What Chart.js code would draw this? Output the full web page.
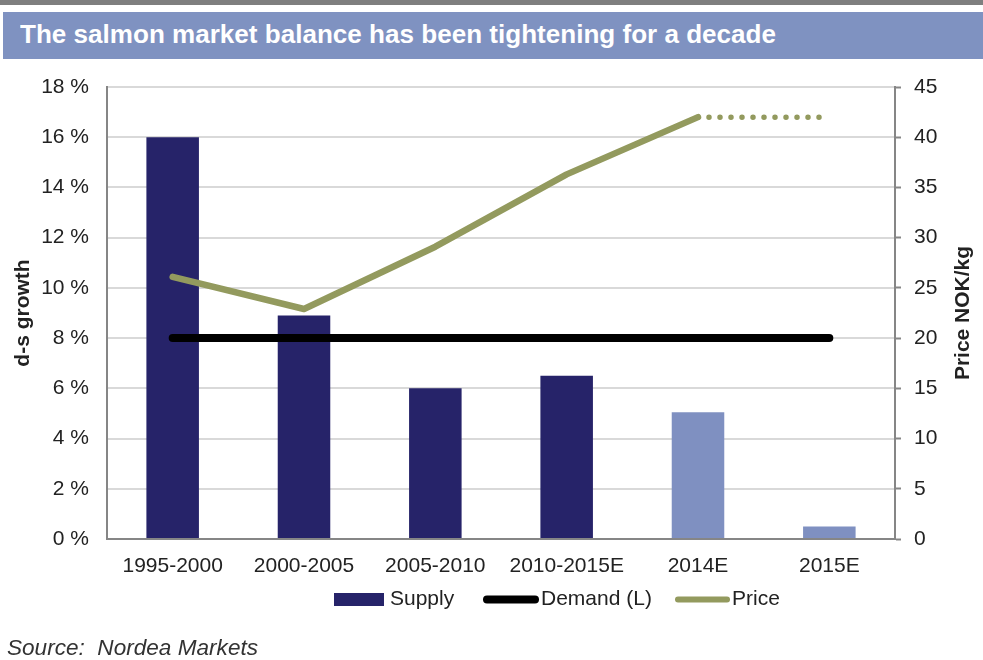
<!DOCTYPE html>
<html><head><meta charset="utf-8">
<script src="https://cdn.jsdelivr.net/npm/chart.js@4"></script>
<style>
html,body{margin:0;padding:0;background:#fff;width:983px;height:660px;overflow:hidden;font-family:"Liberation Sans",Arial,sans-serif}
#topbar{position:absolute;left:0;top:0;width:983px;height:5px;background:#7f7f7f}
#title{position:absolute;left:3px;top:12px;width:980px;height:47px;background:#7f92c1}
#titletext{position:absolute;left:17px;top:8px;color:#fff;font-weight:bold;font-size:25px;line-height:28px;white-space:nowrap;transform-origin:0 0}
#c{position:absolute;left:0;top:0}
#source{position:absolute;left:7px;top:635px;font-style:italic;font-size:22px;line-height:26px;color:#333;white-space:nowrap;transform-origin:0 0}
</style>
</head><body>
<canvas id="c" width="983" height="660"></canvas>
<div id="topbar"></div>
<div id="title"><span id="titletext">The salmon market balance has been tightening for a decade</span></div>
<div id="source">Source:&nbsp; Nordea Markets</div>
<script>
const categories = ['1995-2000','2000-2005','2005-2010','2010-2015E','2014E','2015E'];
const supply = [16, 8.9, 6.0, 6.5, 5.05, 0.5];
const demand = [8, 8, 8, 8, 8, 8];
const price = [26.1, 22.9, 29.1, 36.3, 42.0, null];
const priceForecast = [null, null, null, null, 42.0, 42.0];
const seriesLabels = ['Supply', 'Demand (L)', 'Price'];
const leftAxisTitle = 'd-s growth';
const rightAxisTitle = 'Price NOK/kg';

const DARK = '#262369', LIGHT = '#7f90c1', OLIVE = '#939a5e', AXIS = '#868686', GRID = '#d9d9d9', TXT = '#222222';
const FONT = '"Liberation Sans", Arial, sans-serif';

const extras = {
  id: 'extras',
  afterDraw(chart) {
    const ctx = chart.ctx, a = chart.chartArea;
    const cy = (a.top + a.bottom) / 2;
    ctx.save();
    ctx.fillStyle = TXT;
    ctx.font = 'bold 21px ' + FONT;
    ctx.textAlign = 'center';
    ctx.textBaseline = 'middle';
    ctx.translate(23, cy); ctx.rotate(-Math.PI / 2); ctx.fillText(leftAxisTitle, 0, 0);
    ctx.restore();
    ctx.save();
    ctx.fillStyle = TXT;
    ctx.font = 'bold 21px ' + FONT;
    ctx.textAlign = 'center';
    ctx.textBaseline = 'middle';
    ctx.translate(963, cy); ctx.rotate(-Math.PI / 2); ctx.fillText(rightAxisTitle, 0, 0);
    ctx.restore();
    // legend
    ctx.save();
    const ly = 599.5;
    ctx.font = '21px ' + FONT;
    ctx.textBaseline = 'middle';
    ctx.fillStyle = DARK;
    ctx.fillRect(334, 593, 50, 13);
    ctx.fillStyle = TXT;
    ctx.fillText(seriesLabels[0], 390, ly);
    ctx.lineCap = 'round';
    ctx.strokeStyle = '#000'; ctx.lineWidth = 8;
    ctx.beginPath(); ctx.moveTo(487, ly); ctx.lineTo(535, ly); ctx.stroke();
    ctx.fillText(seriesLabels[1], 541, ly);
    ctx.strokeStyle = OLIVE; ctx.lineWidth = 6;
    ctx.beginPath(); ctx.moveTo(678, ly); ctx.lineTo(727, ly); ctx.stroke();
    ctx.fillStyle = TXT;
    ctx.fillText(seriesLabels[2], 732, ly);
    ctx.restore();
  }
};

new Chart(document.getElementById('c'), {
  type: 'bar',
  data: {
    labels: categories,
    datasets: [
      { type: 'line', label: seriesLabels[1], data: demand, yAxisID: 'y', borderColor: '#000', borderWidth: 8, borderCapStyle: 'round', pointRadius: 0, order: 1 },
      { type: 'line', label: seriesLabels[2], data: price, yAxisID: 'y1', borderColor: OLIVE, borderWidth: 6.5, borderCapStyle: 'round', borderJoinStyle: 'round', pointRadius: 0, tension: 0, order: 2 },
      { type: 'line', label: seriesLabels[2] + ' (E)', data: priceForecast, yAxisID: 'y1', borderColor: OLIVE, borderWidth: 5.5, borderCapStyle: 'round', borderDash: [0, 11], pointRadius: 0, order: 2 },
      { type: 'bar', label: seriesLabels[0], data: supply, yAxisID: 'y',
        backgroundColor: c => c.dataIndex >= 4 ? LIGHT : DARK,
        barPercentage: 0.4, categoryPercentage: 1, order: 3 }
    ]
  },
  options: {
    responsive: false,
    animation: false,
    layout: { padding: { top: 87, left: 0, right: 0, bottom: 0 } },
    plugins: { legend: { display: false }, tooltip: { enabled: false } },
    scales: {
      x: {
        grid: { display: false },
        border: { display: true, color: AXIS, width: 2 },
        ticks: { color: TXT, font: { family: FONT, size: 21 }, padding: 7, maxRotation: 0, autoSkip: false },
        afterFit: s => { s.height = 121; }
      },
      y: {
        position: 'left', min: 0, max: 18,
        ticks: { stepSize: 2, color: TXT, font: { family: FONT, size: 21 }, padding: 18, callback: v => v + ' %' },
        grid: { color: c => c.tick && c.tick.value === 0 ? AXIS : GRID, lineWidth: 2, drawTicks: false },
        border: { display: true, color: AXIS, width: 2 },
        afterFit: s => { s.width = 107; }
      },
      y1: {
        position: 'right', min: 0, max: 45,
        ticks: { stepSize: 5, color: TXT, font: { family: FONT, size: 21 }, padding: 13 },
        grid: { drawOnChartArea: false, drawTicks: true, tickLength: 6, tickColor: AXIS, tickWidth: 2 },
        border: { display: true, color: AXIS, width: 2 },
        afterFit: s => { s.width = 88; }
      }
    }
  },
  plugins: [extras]
});

function fit(id, w) {
  const el = document.getElementById(id);
  const cur = el.getBoundingClientRect().width;
  el.style.transform = 'scaleX(' + (w / cur) + ')';
}
fit('titletext', 756);
fit('source', 251);
</script>
</body></html>
